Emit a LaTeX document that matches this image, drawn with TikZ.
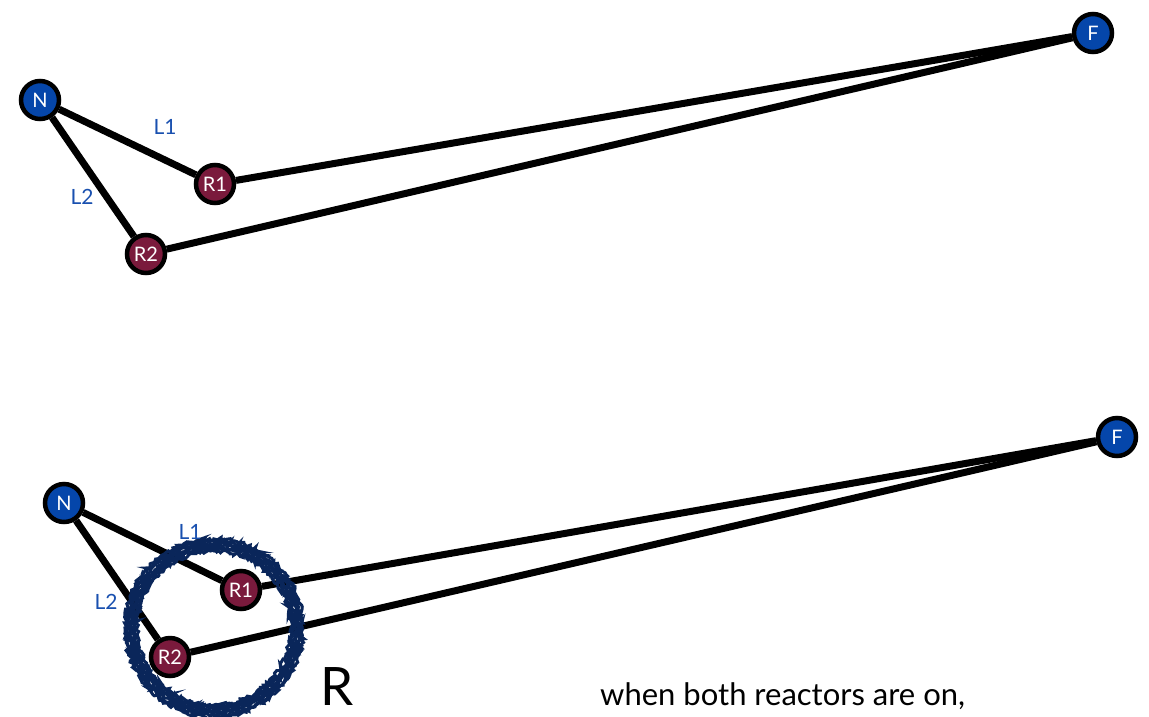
\documentclass[tikz,border=0pt]{standalone}
\usepackage{fontspec}
\setmainfont{Lato}
\usetikzlibrary{decorations.pathmorphing}
\definecolor{nblue}{RGB}{5,70,170}
\definecolor{nred}{RGB}{122,26,60}
\definecolor{lblue}{RGB}{25,80,175}
\definecolor{navy}{RGB}{10,38,90}
\pgfdeclarelayer{bg}
\pgfdeclarelayer{mid}
\pgfsetlayers{bg,mid,main}
\tikzset{
  nd/.style={circle,draw=black,line width=4.5pt,minimum size=38pt,inner sep=0pt,text=white,font=\fontsize{20}{20}\selectfont},
  bn/.style={nd,fill=nblue},
  rn/.style={nd,fill=nred},
  edge/.style={line width=7pt},
  lbl/.style={text=lblue,font=\fontsize{21}{21}\selectfont},
  rough/.style={draw=navy,line width=3pt,decorate,decoration={random steps,segment length=2pt,amplitude=1.8pt}}
}
\begin{document}
\begin{tikzpicture}[x=1pt,y=-1pt]
\useasboundingbox (0,0) rectangle (1149,716);
% top
\node[bn] (N) at (40,100) {N};
\node[rn] (R1) at (215,184) {R1};
\node[rn] (R2) at (146,254) {R2};
\node[bn] (F) at (1093,33) {F};
\node[lbl] (L1) at (165,127) {L1};
\node[lbl] (L2) at (82,197) {L2};
\begin{pgfonlayer}{bg}
\draw[edge] (N) -- (R1);
\draw[edge] (N) -- (R2);
\draw[edge] (R1) -- (F);
\draw[edge] (R2) -- (F);
\end{pgfonlayer}
% bottom
\node[bn] (bN) at (64,503) {N};
\node[rn] (bR1) at (241,590) {R1};
\node[rn] (bR2) at (170,657) {R2};
\node[bn] (bF) at (1117,437) {F};
\node[lbl] (bL1) at (190,532) {L1};
\node[lbl] (bL2) at (106,602) {L2};
\begin{pgfonlayer}{bg}
\draw[edge] (bN) -- (bR1);
\draw[edge] (bN) -- (bR2);
\draw[edge] (bR1) -- (bF);
\draw[edge] (bR2) -- (bF);
\end{pgfonlayer}
\begin{pgfonlayer}{mid}
\coordinate (C) at (214,628);
\foreach \r in {77,79,81,83,85,87,89}{
  \draw[rough] (C) circle[radius=\r];
}
\end{pgfonlayer}
\node[anchor=base,font=\fontsize{53}{53}\selectfont,inner sep=0pt] (R) at (337,705) {R};
\node[anchor=base west,font=\fontsize{31}{31}\selectfont,inner sep=0pt] (txt) at (600,705) {when both reactors are on,};
\end{tikzpicture}
\end{document}
